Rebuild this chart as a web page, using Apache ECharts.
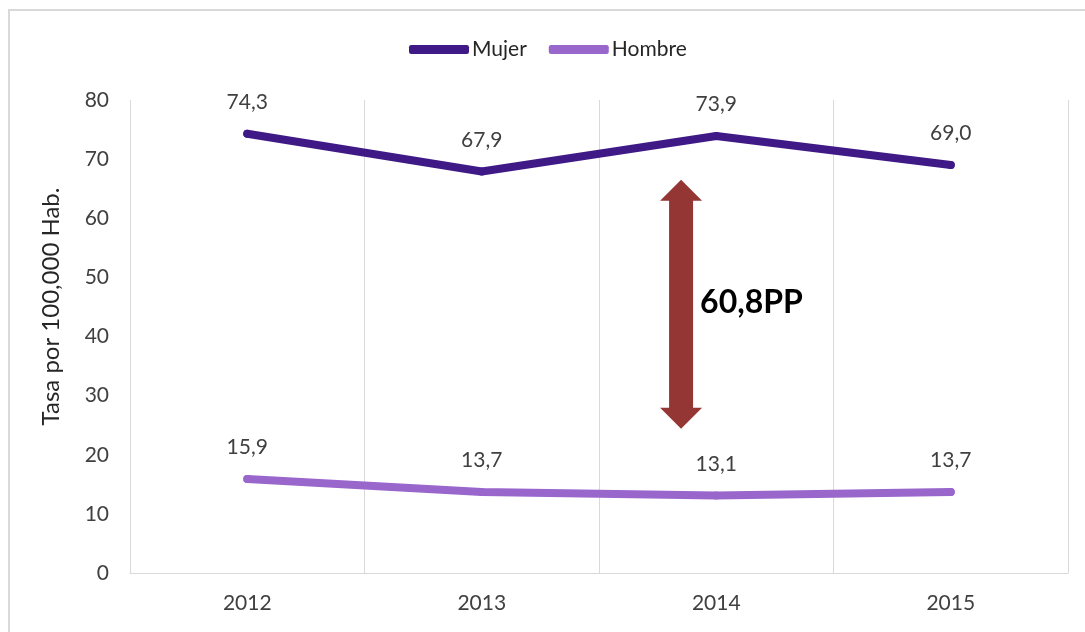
<!DOCTYPE html>
<html>
<head>
<meta charset="utf-8">
<script src="https://cdn.jsdelivr.net/npm/echarts@6/dist/echarts.min.js"></script>
<style>
html,body{margin:0;padding:0;background:#fff;}
#chart{width:1085px;height:632px;}
</style>
</head>
<body>
<div id="chart"></div>
<script>
const years = ['2012', '2013', '2014', '2015'];
const mujer = [74.3, 67.9, 73.9, 69.0];
const hombre = [15.9, 13.7, 13.1, 13.7];
const yTicks = [0, 10, 20, 30, 40, 50, 60, 70, 80];
const gapLabel = '60,8PP';
// annotation arrow in data units: category position (fractional index), top and bottom values
const arrowCat = 1.85;
const arrowTop = 66.5;
const arrowBottom = 24.4;
const labelValue = 45.7;

const FONT = 'Lato, "Open Sans", sans-serif';
const fmt = v => v.toFixed(1).replace('.', ',');

const chart = echarts.init(document.getElementById('chart'));
const labelStyle = { show: true, position: 'top', distance: 17, fontSize: 21, color: '#404040', fontFamily: FONT, formatter: p => fmt(p.value) };
const option = {
  backgroundColor: '#fff',
  animation: false,
  textStyle: { fontFamily: FONT },
  legend: {
    top: 34,
    left: 404,
    itemWidth: 60,
    itemHeight: 9,
    itemGap: 22,
    icon: 'roundRect',
    textStyle: { fontSize: 21, color: '#262626', fontFamily: FONT, padding: [0, 0, 0, -2] },
    data: ['Mujer', 'Hombre']
  },
  grid: { left: 130, right: 17, top: 100, bottom: 59 },
  xAxis: {
    type: 'category',
    data: years,
    boundaryGap: true,
    axisLine: { show: true, lineStyle: { color: '#D9D9D9', width: 1 } },
    axisTick: { show: false },
    axisLabel: { fontSize: 21, color: '#404040', margin: 20, fontFamily: FONT },
    splitLine: { show: true, lineStyle: { color: '#D9D9D9', width: 1 } }
  },
  yAxis: {
    type: 'value',
    min: yTicks[0],
    max: yTicks[yTicks.length - 1],
    interval: yTicks[1] - yTicks[0],
    name: 'Tasa por 100,000 Hab.',
    nameLocation: 'middle',
    nameGap: 67,
    nameTextStyle: { fontSize: 24, color: '#262626', fontFamily: FONT, padding: [0, 0, 0, 60] },
    axisLine: { show: false },
    axisTick: { show: false },
    splitLine: { show: false },
    axisLabel: { fontSize: 21, color: '#404040', margin: 21, fontFamily: FONT }
  },
  series: [
    {
      name: 'Mujer', type: 'line', data: mujer,
      symbol: 'circle', symbolSize: 8, showSymbol: true, color: '#3F1A87',
      itemStyle: { color: '#3F1A87' },
      lineStyle: { width: 8, cap: 'round', join: 'round', color: '#3F1A87' },
      label: labelStyle
    },
    {
      name: 'Hombre', type: 'line', data: hombre,
      symbol: 'circle', symbolSize: 8, showSymbol: true, color: '#9966CC',
      itemStyle: { color: '#9966CC' },
      lineStyle: { width: 8, cap: 'round', join: 'round', color: '#9966CC' },
      label: labelStyle
    }
  ]
};
chart.setOption(option);

function px(cat, val) {
  const i0 = Math.floor(cat), f = cat - i0;
  const a = chart.convertToPixel({ gridIndex: 0 }, [i0, val]);
  const b = chart.convertToPixel({ gridIndex: 0 }, [Math.min(i0 + 1, years.length - 1), val]);
  return [a[0] + (b[0] - a[0]) * f, a[1]];
}
const pTop = px(arrowCat, arrowTop);
const pBot = px(arrowCat, arrowBottom);
const cx = pTop[0];
const hw = 21, sw = 12, hh = 21;
const pLab = px(arrowCat, labelValue);

chart.setOption({
  graphic: [
    {
      type: 'rect', silent: true, z: -10,
      shape: { x: 9, y: 10, width: 1100, height: 640 },
      style: { fill: 'none', stroke: '#D9D9D9', lineWidth: 2 }
    },
    {
      type: 'polygon', silent: true, z: 100,
      shape: {
        points: [
          [cx, pTop[1]], [cx + hw, pTop[1] + hh], [cx + sw, pTop[1] + hh],
          [cx + sw, pBot[1] - hh], [cx + hw, pBot[1] - hh], [cx, pBot[1]],
          [cx - hw, pBot[1] - hh], [cx - sw, pBot[1] - hh], [cx - sw, pTop[1] + hh],
          [cx - hw, pTop[1] + hh]
        ]
      },
      style: { fill: '#943634' }
    },
    {
      type: 'text', silent: true, z: 100,
      x: cx + hw - 2, y: pLab[1],
      style: {
        text: gapLabel, fill: '#000', fontSize: 32, fontWeight: 'bold',
        fontFamily: FONT, verticalAlign: 'middle', align: 'left'
      }
    }
  ]
});
</script>
</body>
</html>
